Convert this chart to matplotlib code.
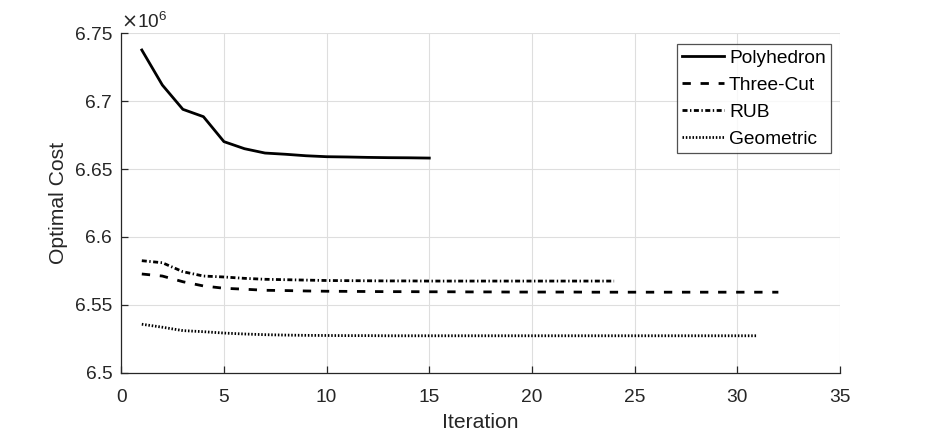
import numpy as np
import matplotlib
matplotlib.use('Agg')
import matplotlib.pyplot as plt
from matplotlib.ticker import FuncFormatter

# optimal cost per iteration, in units of 1e6
poly_cost = [6.7377, 6.7119, 6.6940, 6.6886, 6.6702, 6.6650, 6.6618, 6.6609,
             6.6598, 6.6591, 6.6589, 6.6586, 6.6584, 6.6583, 6.6581]
three_cut_cost = [6.5727, 6.5712, 6.5670, 6.5639, 6.5622, 6.5615, 6.5607, 6.5605,
                  6.5602, 6.5600, 6.5599, 6.5598, 6.5597, 6.5597, 6.5596, 6.5596,
                  6.5595, 6.5595, 6.5594, 6.5594, 6.5594, 6.5594, 6.5593, 6.5593,
                  6.5593, 6.5593, 6.5593, 6.5593, 6.5593, 6.5593, 6.5593, 6.5593]
rub_cost = [6.5825, 6.5810, 6.5744, 6.5712, 6.5705, 6.5695, 6.5688, 6.5685,
            6.5682, 6.5679, 6.5678, 6.5677, 6.5676, 6.5676, 6.5675, 6.5675,
            6.5675, 6.5675, 6.5675, 6.5675, 6.5675, 6.5675, 6.5675, 6.5675]
geo_cost = [6.5357, 6.5335, 6.5310, 6.5302, 6.5292, 6.5285, 6.5280, 6.5277,
            6.5275, 6.5274, 6.5273, 6.5273, 6.5272, 6.5272, 6.5272, 6.5272,
            6.5272, 6.5272, 6.5272, 6.5272, 6.5272, 6.5272, 6.5272, 6.5272,
            6.5272, 6.5272, 6.5272, 6.5272, 6.5272, 6.5272, 6.5272]
x_ticks = [0, 5, 10, 15, 20, 25, 30, 35]
y_ticks = [6.5, 6.55, 6.6, 6.65, 6.7, 6.75]

plt.rcParams['font.family'] = ['Liberation Sans', 'DejaVu Sans']
txt = '#262626'

fig = plt.figure(figsize=(9.3, 4.36), dpi=100)
ax = fig.add_axes([0.1304, 0.1452, 0.7728, 0.7784])

def iters(c):
    return np.arange(1, len(c) + 1)

ax.plot(iters(poly_cost), poly_cost, color='k', lw=2, ls='-', label='Polyhedron')
ax.plot(iters(three_cut_cost), three_cut_cost, color='k', lw=2, ls=(0, (3.0, 3.5)), label='Three-Cut')
ax.plot(iters(rub_cost), rub_cost, color='k', lw=2, ls=(0, (1.8, 0.9, 0.5, 0.9)), label='RUB')
ax.plot(iters(geo_cost), geo_cost, color='k', lw=2, ls=(0, (0.55, 0.65)), label='Geometric')

ax.set_xlim(0, 35)
ax.set_ylim(6.5, 6.75)
ax.set_xticks(x_ticks)
ax.set_yticks(y_ticks)
ax.yaxis.set_major_formatter(FuncFormatter(lambda v, p: '%g' % v))
ax.grid(True, color='#dedede', lw=0.8)
ax.set_axisbelow(True)
for s in ['top', 'right']:
    ax.spines[s].set_visible(False)
for s in ['left', 'bottom']:
    ax.spines[s].set_color(txt)
    ax.spines[s].set_linewidth(0.9)
ax.tick_params(direction='in', length=5, width=0.9, colors=txt, labelsize=13.8)
ax.tick_params(axis='x', pad=12)
ax.tick_params(axis='y', pad=6.5)

ax.set_xlabel('Iteration', fontsize=15.2, color=txt, labelpad=5)
ax.set_ylabel('Optimal Cost', fontsize=15.2, color=txt, labelpad=5)
ax.text(0.0, 1.005, r'$\times\mathregular{10^{6}}$', transform=ax.transAxes,
        fontsize=13.8, color=txt, ha='left', va='bottom')

leg = ax.legend(loc='upper right', bbox_to_anchor=(831 / 930, 1 - 44 / 436),
                bbox_transform=fig.transFigure, fontsize=13.8, frameon=True,
                fancybox=False, handlelength=2.2, handletextpad=0.25,
                labelspacing=0.5, borderpad=0.28, borderaxespad=0)
leg.get_frame().set_edgecolor(txt)
leg.get_frame().set_linewidth(0.9)

fig.savefig('out.png', dpi=100)
